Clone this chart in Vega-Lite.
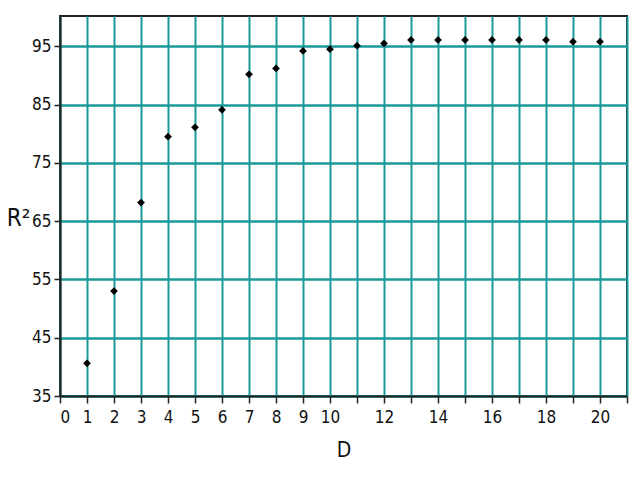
{
  "$schema": "https://vega.github.io/schema/vega-lite/v6.json",
  "width": 567,
  "height": 380,
  "autosize": "none",
  "padding": {"left": 60, "top": 16, "right": 13, "bottom": 84},
  "background": "white",
  "config": {
    "view": {"stroke": "#222222", "strokeWidth": 2},
    "font": "DejaVu Sans Condensed, Liberation Sans Narrow, Liberation Sans"
  },
  "data": {
    "values": [
      {"D": 1, "R2": 40.6},
      {"D": 2, "R2": 53.0},
      {"D": 3, "R2": 68.2},
      {"D": 4, "R2": 79.5},
      {"D": 5, "R2": 81.1},
      {"D": 6, "R2": 84.1},
      {"D": 7, "R2": 90.2},
      {"D": 8, "R2": 91.2},
      {"D": 9, "R2": 94.2},
      {"D": 10, "R2": 94.5},
      {"D": 11, "R2": 95.1},
      {"D": 12, "R2": 95.5},
      {"D": 13, "R2": 96.1},
      {"D": 14, "R2": 96.1},
      {"D": 15, "R2": 96.1},
      {"D": 16, "R2": 96.1},
      {"D": 17, "R2": 96.1},
      {"D": 18, "R2": 96.1},
      {"D": 19, "R2": 95.8},
      {"D": 20, "R2": 95.8}
    ]
  },
  "mark": {"type": "point", "filled": true, "shape": "diamond", "size": 60, "color": "black", "opacity": 1},
  "encoding": {
    "x": {
      "field": "D",
      "type": "quantitative",
      "scale": {"domain": [0, 21], "nice": false, "zero": false},
      "axis": {
        "title": "D",
        "values": [0, 1, 2, 3, 4, 5, 6, 7, 8, 9, 10, 11, 12, 13, 14, 15, 16, 17, 18, 19, 20, 21],
        "labelExpr": "(datum.value <= 10 || (datum.value % 2 == 0 && datum.value <= 20)) ? datum.label : ''",
        "labelFontSize": 17,
        "labelColor": "#111111",
        "labelPadding": 6,
        "titleFontSize": 21,
        "titleFontWeight": "normal",
        "titleColor": "#111111",
        "titlePadding": 14,
        "domainColor": "#222222",
        "domainWidth": 2,
        "tickColor": "#222222",
        "tickWidth": 1.5,
        "tickSize": 7,
        "gridColor": "#1a9a9a",
        "gridWidth": 2,
        "gridOpacity": 1
      }
    },
    "y": {
      "field": "R2",
      "type": "quantitative",
      "scale": {"domain": [35, 100.2], "nice": false, "zero": false},
      "axis": {
        "title": "R²",
        "titleAngle": 0,
        "titleX": -42,
        "titleY": 214,
        "titleAlign": "center",
        "titleFontSize": 24,
        "titleFontWeight": "normal",
        "titleColor": "#111111",
        "values": [35, 45, 55, 65, 75, 85, 95],
        "labelFontSize": 17,
        "labelColor": "#111111",
        "labelPadding": 3,
        "domainColor": "#222222",
        "domainWidth": 2,
        "tickColor": "#222222",
        "tickWidth": 1.5,
        "tickSize": 6,
        "gridColor": "#1a9a9a",
        "gridWidth": 2.5,
        "gridOpacity": 1
      }
    }
  }
}
